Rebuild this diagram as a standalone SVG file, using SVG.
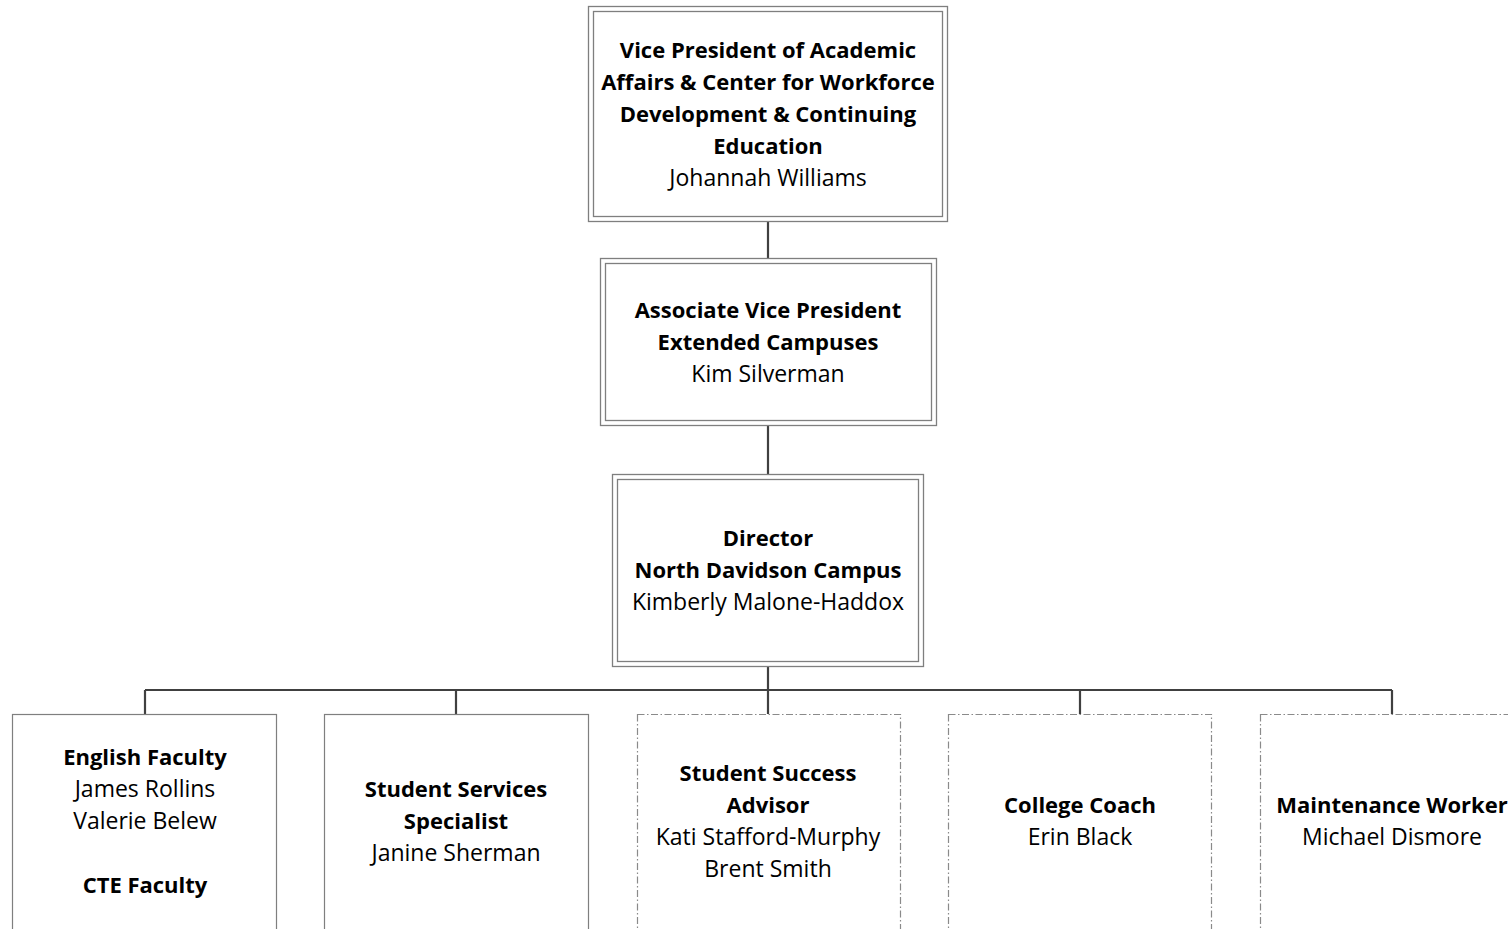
<svg xmlns="http://www.w3.org/2000/svg" width="1508" height="929" viewBox="0 0 1508 929">
<style>
.t{font-family:"Open Sans","Noto Sans","Liberation Sans",sans-serif;font-size:23px;fill:#000;text-anchor:middle}
.b{font-weight:bold;font-size:22px}
.o{fill:#fff;stroke:#7f7f7f;stroke-width:1.3}
.i{fill:none;stroke:#7f7f7f;stroke-width:1.3}
.s{fill:#fff;stroke:#7f7f7f;stroke-width:1.2}
.d{fill:#fff;stroke:#8a8a8a;stroke-width:1.2;stroke-dasharray:7 2.5 1.5 2.5}
.c{fill:none;stroke:#404040;stroke-width:2.2}
</style>
<rect width="1508" height="929" fill="#fff"/>
<g id="connectors">
<path class="c" d="M768 222V258M768 425V474M768 667V690M145 690H1392M145 690V714M456 690V714M768 690V714M1080 690V714M1392 690V714"/>
</g>
<g id="vp">
<rect class="o" x="588.5" y="6.5" width="359" height="215"/>
<rect class="i" x="593.5" y="11.5" width="349" height="205"/>
<text class="t b" x="768" y="58">Vice President of Academic</text>
<text class="t b" x="768" y="90">Affairs &amp; Center for Workforce</text>
<text class="t b" x="768" y="122">Development &amp; Continuing</text>
<text class="t b" x="768" y="154">Education</text>
<text class="t" x="768" y="186">Johannah Williams</text>
</g>
<g id="avp">
<rect class="o" x="600.5" y="258.5" width="336" height="167"/>
<rect class="i" x="605.5" y="263.5" width="326" height="157"/>
<text class="t b" x="768" y="318">Associate Vice President</text>
<text class="t b" x="768" y="350">Extended Campuses</text>
<text class="t" x="768" y="382">Kim Silverman</text>
</g>
<g id="director">
<rect class="o" x="612.5" y="474.5" width="311" height="192"/>
<rect class="i" x="617.5" y="479.5" width="301" height="182"/>
<text class="t b" x="768" y="546">Director</text>
<text class="t b" x="768" y="578">North Davidson Campus</text>
<text class="t" x="768" y="610">Kimberly Malone-Haddox</text>
</g>
<g id="english">
<rect class="s" x="12.5" y="714.5" width="264" height="240"/>
<text class="t b" x="145" y="765">English Faculty</text>
<text class="t" x="145" y="797">James Rollins</text>
<text class="t" x="145" y="829">Valerie Belew</text>
<text class="t b" x="145" y="893">CTE Faculty</text>
</g>
<g id="services">
<rect class="s" x="324.5" y="714.5" width="264" height="240"/>
<text class="t b" x="456" y="797">Student Services</text>
<text class="t b" x="456" y="829">Specialist</text>
<text class="t" x="456" y="861">Janine Sherman</text>
</g>
<g id="success">
<rect class="d" x="637.5" y="714.5" width="263" height="240"/>
<text class="t b" x="768" y="781">Student Success</text>
<text class="t b" x="768" y="813">Advisor</text>
<text class="t" x="768" y="845">Kati Stafford-Murphy</text>
<text class="t" x="768" y="877">Brent Smith</text>
</g>
<g id="coach">
<rect class="d" x="948.5" y="714.5" width="263" height="240"/>
<text class="t b" x="1080" y="813">College Coach</text>
<text class="t" x="1080" y="845">Erin Black</text>
</g>
<g id="maintenance">
<rect class="d" x="1260.5" y="714.5" width="263" height="240"/>
<text class="t b" x="1392" y="813">Maintenance Worker</text>
<text class="t" x="1392" y="845">Michael Dismore</text>
</g>
</svg>
